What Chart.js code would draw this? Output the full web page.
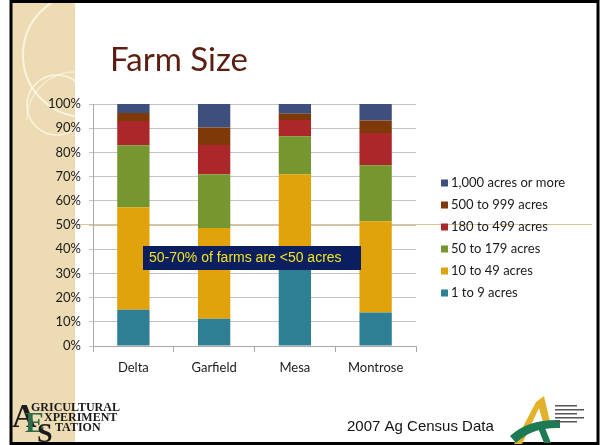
<!DOCTYPE html>
<html>
<head>
<meta charset="utf-8">
<script src="https://cdn.jsdelivr.net/npm/chart.js@4.4.0/dist/chart.umd.min.js"></script>
<style>
  html, body { margin: 0; padding: 0; background: #fff; }
  #wrap { width: 600px; height: 445px; position: relative; }
</style>
</head>
<body>
<div id="wrap"><canvas id="mycanvas" width="600" height="445"></canvas></div>
<script>
// data (percent of farms per county)
const counties = ['Delta', 'Garfield', 'Mesa', 'Montrose'];
const acres1to9 = [15.0, 11.3, 37.0, 13.8];
const acres10to49 = [42.3, 37.5, 34.0, 37.7];
const acres50to179 = [25.7, 22.2, 15.7, 23.2];
const acres180to499 = [10.0, 12.1, 6.7, 13.3];
const acres500to999 = [3.3, 7.2, 2.6, 5.2];
const acres1000plus = [3.7, 9.7, 4.0, 6.8];
const yTicks = [0, 10, 20, 30, 40, 50, 60, 70, 80, 90, 100];

const gill = 'Lato, "Open Sans", sans-serif';

// slide background: frame, beige strip, arcs, title
const slideBack = {
  id: 'slideBack',
  beforeDraw(chart) {
    const ctx = chart.ctx;
    ctx.save();
    ctx.fillStyle = '#fff';
    ctx.fillRect(0, 0, 600, 445);
    // beige strip
    ctx.fillStyle = '#eddcb3';
    ctx.fillRect(12, 2, 63, 441);
    // little arcs, clipped to the strip
    ctx.save();
    ctx.beginPath(); ctx.rect(12, 2, 63, 441); ctx.clip();
    ctx.strokeStyle = 'rgba(255,250,235,0.8)';
    ctx.lineWidth = 2;
    ctx.beginPath(); ctx.arc(85, 55, 62, Math.PI * 0.5, Math.PI * 1.5); ctx.stroke();
    ctx.lineWidth = 1.5;
    ctx.beginPath(); ctx.arc(57, 105, 30, 0, Math.PI * 2); ctx.stroke();
    ctx.strokeStyle = 'rgba(255,250,235,0.55)';
    ctx.beginPath(); ctx.arc(75, 120, 48, Math.PI * 1.0, Math.PI * 1.6); ctx.stroke();
    ctx.restore();
    // decorative rule across the slide
    ctx.strokeStyle = 'rgba(205,170,100,0.7)';
    ctx.lineWidth = 1;
    ctx.beginPath(); ctx.moveTo(75, 224.5); ctx.lineTo(592, 224.5); ctx.stroke();
    // frame
    ctx.strokeStyle = '#000';
    ctx.lineWidth = 3;
    ctx.strokeRect(11, 1.5, 587, 442);
    // title
    ctx.fillStyle = '#5b1f12';
    ctx.font = '33px ' + gill;
    ctx.textBaseline = 'alphabetic';
    ctx.fillText('Farm Size', 110, 71);
    ctx.restore();
  }
};

// legend, callout, footer and logos
const slideFront = {
  id: 'slideFront',
  afterDraw(chart) {
    const ctx = chart.ctx;
    ctx.save();
    // legend from the datasets, largest class on top
    const sets = chart.data.datasets.slice().reverse();
    ctx.font = '13px ' + gill;
    ctx.textBaseline = 'middle';
    sets.forEach((ds, i) => {
      const y = 183 + i * 22;
      ctx.fillStyle = ds.backgroundColor;
      ctx.fillRect(441, y - 3.5, 7, 7);
      ctx.fillStyle = '#1a1a1a';
      ctx.fillText(ds.label, 451, y);
    });

    // callout box
    ctx.fillStyle = '#0b1e60';
    ctx.fillRect(143, 246, 218, 24);
    ctx.fillStyle = '#f2e41e';
    ctx.font = '14px "Liberation Sans", Arial, sans-serif';
    ctx.textBaseline = 'middle';
    ctx.fillText('50-70% of farms are <50 acres', 149, 258.5);

    // footer
    ctx.fillStyle = '#111';
    ctx.font = '15px "Liberation Sans", Arial, sans-serif';
    ctx.textBaseline = 'alphabetic';
    ctx.fillText('2007 Ag Census Data', 347, 431);

    // left logo (Agricultural Experiment Station)
    ctx.fillStyle = '#1b1b1b';
    ctx.font = 'bold 34px "Liberation Serif", serif';
    ctx.fillText('A', 12, 427);
    ctx.font = 'bold 12px "Liberation Serif", serif';
    ctx.fillText('GRICULTURAL', 31, 411);
    ctx.fillText('XPERIMENT', 44, 421);
    ctx.fillText('TATION', 55, 431);
    ctx.fillStyle = '#2f6b4a';
    ctx.font = 'bold 30px "Liberation Serif", serif';
    ctx.fillText('E', 25, 432);
    ctx.fillStyle = '#1b1b1b';
    ctx.font = 'bold 28px "Liberation Serif", serif';
    ctx.fillText('S', 37, 442);

    // right logo
    ctx.fillStyle = '#e1b22a';
    ctx.beginPath();
    ctx.moveTo(514, 444); ctx.lineTo(536, 402); ctx.lineTo(544, 396);
    ctx.lineTo(550, 422); ctx.lineTo(543, 422); ctx.lineTo(539, 408);
    ctx.lineTo(522, 444); ctx.closePath(); ctx.fill();
    ctx.fillStyle = '#1e7a52';
    ctx.beginPath();
    ctx.moveTo(510, 436);
    ctx.quadraticCurveTo(528, 419, 560, 420);
    ctx.lineTo(560, 428);
    ctx.quadraticCurveTo(532, 427, 516, 443);
    ctx.closePath(); ctx.fill();
    ctx.beginPath();
    ctx.moveTo(538, 428); ctx.lineTo(545, 428); ctx.lineTo(551, 443); ctx.lineTo(544, 443);
    ctx.closePath(); ctx.fill();
    ctx.fillStyle = '#555';
    [405, 409, 413, 417, 421].forEach((y, i) => ctx.fillRect(555, y, i % 2 ? 29 : 22, 1.5));
    ctx.restore();
  }
};

new Chart(document.getElementById('mycanvas'), {
  type: 'bar',
  data: {
    labels: counties,
    datasets: [
      { label: '1 to 9 acres', data: acres1to9, backgroundColor: '#2e7f93' },
      { label: '10 to 49 acres', data: acres10to49, backgroundColor: '#e1a30c' },
      { label: '50 to 179 acres', data: acres50to179, backgroundColor: '#76972f' },
      { label: '180 to 499 acres', data: acres180to499, backgroundColor: '#ab2729' },
      { label: '500 to 999 acres', data: acres500to999, backgroundColor: '#7f3808' },
      { label: '1,000 acres or more', data: acres1000plus, backgroundColor: '#3e4e7d' }
    ]
  },
  options: {
    responsive: false,
    devicePixelRatio: 1,
    animation: false,
    layout: { padding: { top: 104, right: 184, bottom: 0, left: 0 } },
    datasets: { bar: { barPercentage: 0.4, categoryPercentage: 1 } },
    plugins: { legend: { display: false }, tooltip: { enabled: false } },
    scales: {
      x: {
        stacked: true,
        afterFit: s => { s.height = 99; },
        grid: { drawOnChartArea: false, drawTicks: true, tickLength: 6, color: '#a8a8a8', offset: true },
        border: { color: '#a8a8a8' },
        ticks: { color: '#1a1a1a', padding: 8, font: { family: gill, size: 13 } }
      },
      y: {
        stacked: true,
        min: 0,
        max: 100,
        afterFit: s => { s.width = 93; },
        afterBuildTicks: s => { s.ticks = yTicks.map(v => ({ value: v })); },
        grid: { color: '#c4c4c4', tickLength: 4 },
        border: { color: '#a8a8a8' },
        ticks: { color: '#1a1a1a', padding: 8, font: { family: gill, size: 13 }, callback: v => v + '%' }
      }
    }
  },
  plugins: [slideBack, slideFront]
});
</script>
</body>
</html>
